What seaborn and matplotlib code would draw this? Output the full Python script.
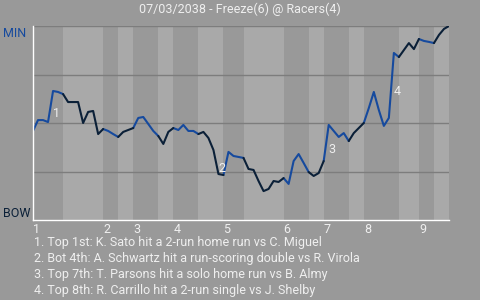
import numpy as np
import pandas as pd
import matplotlib
matplotlib.use("Agg")
import matplotlib.pyplot as plt
import seaborn as sns

# ---- data ----
title = "07/03/2038 - Freeze(6) @ Racers(4)"
away_label = "MIN"
home_label = "BOW"
innings = ["1", "2", "3", "4", "5", "6", "7", "8", "9"]
# plate appearances per half inning (top 1, bot 1, top 2, ...)
half_pa = [6, 8, 3, 3, 5, 3, 5, 5, 4, 8, 5, 3, 5, 3, 7, 4, 3, 3]
# win probability for the away team after each plate appearance (index 0 = pregame)
wp = [0.459, 0.515, 0.515, 0.505, 0.665, 0.660, 0.649,
      0.608, 0.608, 0.608, 0.500, 0.557, 0.562, 0.443, 0.469,
      0.459, 0.443, 0.428,
      0.454, 0.464, 0.474,
      0.526, 0.531, 0.495, 0.459, 0.433,
      0.392, 0.454, 0.474,
      0.464, 0.490, 0.459, 0.459, 0.443,
      0.454, 0.423, 0.361, 0.237, 0.232,
      0.351, 0.330, 0.325, 0.320,
      0.263, 0.258, 0.201, 0.149, 0.160, 0.201, 0.196, 0.216,
      0.186, 0.304, 0.340, 0.294, 0.247,
      0.227, 0.242, 0.304,
      0.490, 0.459, 0.428, 0.448, 0.407,
      0.448, 0.474, 0.500,
      0.577, 0.660, 0.567, 0.485, 0.526, 0.861, 0.840,
      0.876, 0.912, 0.881, 0.933,
      0.923, 0.918, 0.912,
      0.954, 0.985, 1.000]
event_idx = [4, 37, 59, 72]
event_text = [
    "1. Top 1st: K. Sato hit a 2-run home run vs C. Miguel",
    "2. Bot 4th: A. Schwartz hit a run-scoring double vs R. Virola",
    "3. Top 7th: T. Parsons hit a solo home run vs B. Almy",
    "4. Top 8th: R. Carrillo hit a 2-run single vs J. Shelby",
]

# ---- style ----
BG = "#999999"
LIGHT = "#a9a9a9"
BLUE = "#164a9e"
NAVY = "#0b2038"
TXT = "#efefef"
GRID = "#7d7d7d"

sns.set_style("white")
plt.rcParams["font.family"] = ["Roboto", "DejaVu Sans"]
plt.rcParams["font.size"] = 9

W, H = 480, 300
fig = plt.figure(figsize=(W / 100, H / 100), dpi=100, facecolor=BG)
ax = fig.add_axes([33 / W, 1 - 220 / H, (449 - 33) / W, (220 - 26) / H])
ax.set_facecolor(BG)

bounds = np.concatenate([[0], np.cumsum(half_pa)])
n = int(bounds[-1])

# bands for bottom halves
for h in range(len(half_pa)):
    if h % 2 == 1:
        ax.axvspan(bounds[h], bounds[h + 1], color=LIGHT, lw=0, zorder=0)

for g in [0.25, 0.5, 0.75, 1.0]:
    ax.axhline(g, color=GRID, lw=1.0, zorder=1)

# build segments per half inning
rows = []
for h in range(len(half_pa)):
    team = "away" if h % 2 == 0 else "home"
    for k in range(int(bounds[h]), int(bounds[h + 1]) + 1):
        rows.append({"pa": k, "wp": wp[k], "seg": h, "team": team})
df = pd.DataFrame(rows)

sns.lineplot(data=df, x="pa", y="wp", hue="team", units="seg", estimator=None,
             palette={"away": BLUE, "home": NAVY}, lw=1.5, legend=False,
             ax=ax, zorder=3, sort=False)

ax.set_xlim(0, n)
ax.set_ylim(0, 1)
ax.set_xlabel("")
ax.set_ylabel("")
ax.set_yticks([])
starts = [int(bounds[2 * i]) for i in range(9)]
ax.set_xticks(starts, labels=innings)
for t in ax.get_xticklabels():
    t.set_ha("left")
ax.tick_params(axis="x", length=0, pad=2, colors=TXT, labelsize=9)

for s in ["top", "right"]:
    ax.spines[s].set_visible(False)
for s in ["left", "bottom"]:
    ax.spines[s].set_color("white")
    ax.spines[s].set_linewidth(1.0)
    ax.spines[s].set_zorder(4)

# event markers
for i, k in enumerate(event_idx):
    mid = (wp[k - 1] + wp[k]) / 2
    ax.annotate(str(i + 1), xy=(k, mid), xytext=(0, -10), textcoords="offset pixels",
                ha="left", va="baseline", color=TXT, fontsize=9, zorder=5)

def fy(py):
    return 1 - py / H

fig.text(0.5, fy(13), title, ha="center", va="baseline", color=TXT, fontsize=9)
fig.text(3 / W, fy(37), away_label, ha="left", va="baseline", color=BLUE, fontsize=9)
fig.text(3 / W, fy(217), home_label, ha="left", va="baseline", color=NAVY, fontsize=9)
for i, line in enumerate(event_text):
    fig.text(34 / W, fy(246 + 16 * i), line, ha="left", va="baseline", color=TXT, fontsize=9)

fig.savefig("out.png", dpi=100, facecolor=BG)
